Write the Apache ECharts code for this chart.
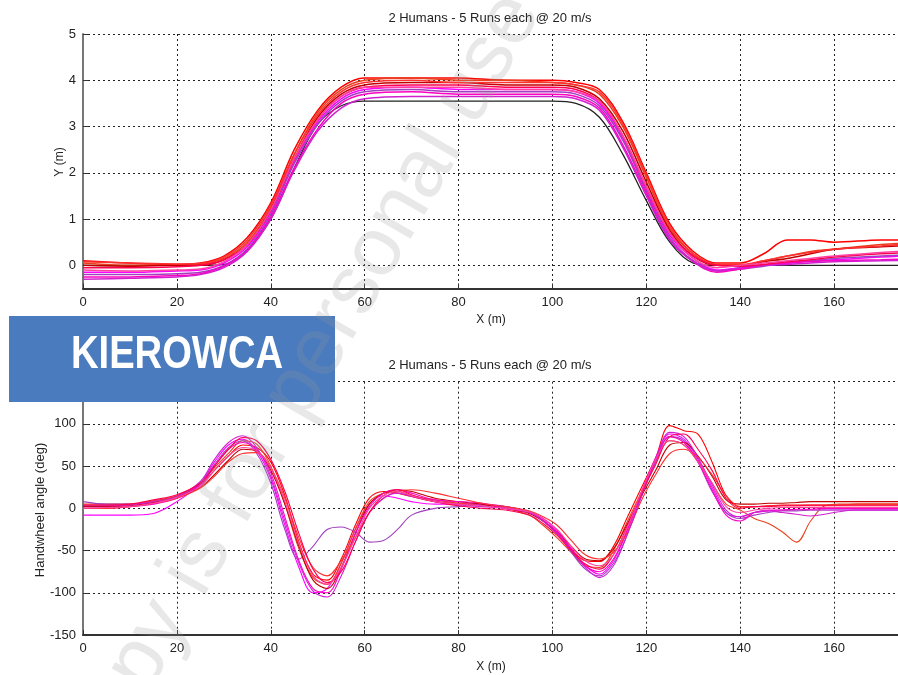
<!DOCTYPE html>
<html><head><meta charset="utf-8">
<script src="https://cdn.jsdelivr.net/npm/echarts@6/dist/echarts.min.js"></script>
<style>html,body{margin:0;padding:0;background:#fff}#c{width:898px;height:675px}</style>
</head><body><div id="c"></div>
<script>
// ---- Top plot: lateral position Y (m) vs X (m)
const posX = [0,10,20,25,30,35,40,45,50,55,60,70,80,90,100,105,110,115,120,125,130,135,140,145,150,155,160,170,180];
const posRef = [0,0,0,0,0.02,0.35,1.0,2.1,3.05,3.45,3.55,3.55,3.55,3.55,3.55,3.5,3.2,2.4,1.4,0.5,0.05,0,0,0,0,0,0,0,0];
const posRed1 = [0.1,0.05,0.02,0.05,0.2,0.6,1.35,2.5,3.35,3.85,4.05,4.05,4.05,4.0,4.0,3.95,3.8,3.1,2.0,0.9,0.3,0.05,0.05,0.25,0.55,0.55,0.5,0.55,0.55];
const posRed2 = [0.05,0.0,0.0,0.02,0.15,0.5,1.25,2.4,3.3,3.8,4.0,4.05,4.0,4.0,3.95,3.9,3.7,3.0,1.9,0.8,0.25,0.02,0.0,0.1,0.2,0.3,0.35,0.45,0.5];
const posRed3 = [0.0,-0.02,0.0,0.0,0.12,0.45,1.2,2.3,3.2,3.7,3.9,3.95,3.95,3.9,3.9,3.85,3.6,2.9,1.8,0.75,0.2,0.0,0.0,0.08,0.15,0.25,0.35,0.4,0.45];
const posRed4 = [0.08,0.05,0.03,0.04,0.18,0.55,1.3,2.4,3.25,3.75,3.95,4.0,3.95,3.95,3.95,3.9,3.75,3.05,1.95,0.85,0.25,0.02,0.02,0.1,0.2,0.28,0.35,0.42,0.5];
const posRed5 = [-0.05,-0.05,-0.03,0.0,0.12,0.45,1.2,2.3,3.15,3.65,3.85,3.9,3.9,3.85,3.85,3.8,3.55,2.8,1.7,0.7,0.2,0.0,-0.02,0.02,0.08,0.12,0.18,0.25,0.3];
const posMag1 = [-0.15,-0.15,-0.12,-0.1,0.05,0.4,1.15,2.25,3.1,3.6,3.8,3.85,3.8,3.8,3.8,3.75,3.5,2.75,1.65,0.65,0.15,-0.1,-0.05,0.0,0.05,0.1,0.12,0.18,0.22];
const posMag2 = [-0.2,-0.2,-0.18,-0.15,0.0,0.35,1.1,2.2,3.05,3.55,3.75,3.8,3.75,3.75,3.75,3.7,3.45,2.7,1.6,0.6,0.1,-0.12,-0.08,-0.02,0.05,0.1,0.15,0.2,0.25];
const posMag3 = [-0.25,-0.25,-0.22,-0.18,-0.02,0.32,1.05,2.1,2.95,3.5,3.7,3.75,3.7,3.7,3.7,3.65,3.4,2.6,1.55,0.55,0.08,-0.15,-0.08,0.0,0.05,0.08,0.1,0.12,0.15];
const posMag4 = [-0.3,-0.28,-0.25,-0.2,-0.05,0.3,1.0,2.05,2.9,3.4,3.6,3.65,3.65,3.65,3.65,3.6,3.35,2.55,1.5,0.55,0.08,-0.12,-0.05,0.0,0.02,0.05,0.08,0.1,0.12];
const posMag5 = [-0.1,-0.12,-0.1,-0.08,0.08,0.45,1.2,2.3,3.15,3.65,3.85,3.85,3.85,3.8,3.8,3.75,3.55,2.8,1.7,0.7,0.15,-0.05,0.0,0.05,0.1,0.15,0.2,0.28,0.32];

// ---- Bottom plot: handwheel angle (deg) vs X (m)
const steerX = [0,5,10,15,20,25,28,31,34,37,40,43,46,49,52,55,58,61,64,67,70,75,80,85,90,95,98,101,104,107,110,113,116,119,122,125,128,131,134,137,140,143,146,149,152,155,158,161,165,170,180];
const steerRed1 = [3,3,4,8,14, 28,45,62,75,72, 55,15,-40,-78,-85, -60,-20,12,20,18, 14,8,6,4,2, -5,-15,-30,-48,-62, -63,-45,-10,25,60, 98,92,88,55,15, 2,2,3,4,4, 4,4,4,5,5, 5];
const steerRed2 = [5,5,5,9,15, 30,48,65,80,76, 50,5,-48,-82,-90, -65,-25,8,18,20, 15,10,6,3,0, -8,-20,-35,-52,-68, -70,-50,-15,20,55, 80,75,55,30,5, -2,-12,-18,-28,-40, -15,3,5,5,5, 5];
const steerRed3 = [2,2,3,7,13, 25,40,57,70,68, 45,5,-45,-85,-95, -70,-30,5,18,22, 20,12,8,5,0, -6,-15,-28,-45,-60, -62,-48,-18,15,45, 75,78,62,38,10, 5,5,6,6,7, 8,8,8,8,8, 8];
const steerRed4 = [0,0,2,6,12, 24,38,55,65,66, 48,12,-35,-70,-80, -62,-35,-5,12,20, 22,18,12,6,2, -3,-10,-20,-38,-55, -60,-52,-28,10,40, 65,70,60,40,15, 2,2,3,3,3, 4,4,4,4,4, 4];
const steerRed5 = [4,4,5,10,16, 30,50,70,84,80, 58,20,-30,-72,-88, -75,-40,-5,15,22, 16,8,3,0,-2, -8,-18,-32,-50,-66, -72,-55,-20,18,52, 85,88,70,45,12, 0,2,2,3,3, 3,3,3,3,3, 3];
const steerMag1 = [-8,-8,-8,-6,8, 30,55,75,82,68, 35,-20,-70,-100,-95, -65,-25,5,15,12, 8,5,5,5,2, -4,-12,-26,-48,-68, -78,-62,-25,20,60, 88,82,58,25,-5, -10,-5,-3,-2,-2, -2,-2,-2,-2,-2, -2];
const steerMag2 = [8,5,5,7,14, 30,52,72,80,65, 30,-25,-60,-45,-25, -22,-28,-40,-38,-25, -8,0,2,4,2, -4,-14,-30,-52,-72, -80,-65,-30,15,55, 85,80,55,20,-5, -12,-8,-5,-3,-3, -2,-2,-2,-2,-2, -2];
const steerMag3 = [0,0,2,5,12, 28,50,70,78,70, 42,-10,-62,-95,-100, -72,-30,2,18,22, 18,10,8,6,0, -5,-14,-28,-48,-68, -75,-60,-25,18,58, 85,78,55,22,-8, -15,-5,-2,-2,-1, -1,0,0,0,0, 0];
const steerMag4 = [3,3,4,8,14, 32,58,78,86,72, 38,-15,-65,-98,-105, -80,-40,-5,12,18, 14,8,4,2,0, -5,-15,-30,-50,-70, -82,-68,-30,15,58, 90,85,60,28,-2, -10,-5,-3,-5,-7, -9,-7,-4,-2,-2, -2];
const steerMag5 = [0,1,2,6,13, 26,45,62,72,68, 48,8,-42,-80,-90, -70,-35,0,15,20, 15,8,5,3,0, -4,-12,-25,-45,-62, -68,-55,-22,20,58, 80,75,55,30,2, -5,-2,0,1,1, 1,1,1,1,1, 1];

const posYTicks = [0,1,2,3,4,5];
const titleText = '2 Humans - 5 Runs each @ 20 m/s';

const redColors = ['#ff0000','#e8401c','#c00000','#ff3030','#ff0050'];
const magColors = ['#ff00ff','#a040c0','#ff00c0','#d020d0','#ff40a0'];

function zip(xs, ys){ return xs.map((x,i)=>[x, ys[i]]); }

const posRed = [posRed1,posRed2,posRed3,posRed4,posRed5];
const posMag = [posMag1,posMag2,posMag3,posMag4,posMag5];
const steerRed = [steerRed1,steerRed2,steerRed3,steerRed4,steerRed5];
const steerMag = [steerMag1,steerMag2,steerMag3,steerMag4,steerMag5];

const series = [];
function addLine(xs, ys, color, idx, width){
  series.push({type:'line', xAxisIndex:idx, yAxisIndex:idx, data:zip(xs,ys),
    showSymbol:false, smooth:0.35, lineStyle:{color:color, width:width}, silent:true});
}
addLine(posX, posRef, '#222222', 0, 1.3);
for (let i=0;i<5;i++){ addLine(posX, posRed[i], redColors[i], 0, 1.5); addLine(posX, posMag[i], magColors[i], 0, 1.5); }
for (let i=0;i<5;i++){ addLine(steerX, steerRed[i], redColors[i], 1, 1.1); addLine(steerX, steerMag[i], magColors[i], 1, 1.1); }

const font = 'Liberation Sans';
const gridLine = {show:true, lineStyle:{color:'#222', type:[2,3], width:1}};
function xAx(idx){
  return {type:'value', gridIndex:idx, min:0, max:180, interval:20,
    axisLine:{show:true, onZero:false, lineStyle:{color:'#333', width:2}},
    axisTick:{show:true, inside:true, length:5, lineStyle:{color:'#333'}},
    axisLabel:{color:'#222', fontSize:13, fontFamily:font, margin:7},
    splitLine:gridLine};
}
const option = {
  animation:false,
  backgroundColor:'#fff',
  grid:[
    {left:83, right:-30, top:34, height:254.5, containLabel:false, outerBoundsMode:'none'},
    {left:83, right:-30, top:381.7, height:253.3, containLabel:false, outerBoundsMode:'none'}
  ],
  xAxis:[xAx(0), xAx(1)],
  yAxis:[
    {type:'value', gridIndex:0, min:-0.5, max:5,
      axisLine:{show:true, onZero:false, lineStyle:{color:'#777', width:2}},
      axisTick:{show:true, inside:true, length:5, customValues:posYTicks, lineStyle:{color:'#333'}},
      axisLabel:{color:'#222', fontSize:13, fontFamily:font, margin:7, customValues:posYTicks},
      splitLine:gridLine},
    {type:'value', gridIndex:1, min:-150, max:150, interval:50,
      axisLine:{show:true, onZero:false, lineStyle:{color:'#777', width:2}},
      axisTick:{show:true, inside:true, length:5, lineStyle:{color:'#333'}},
      axisLabel:{color:'#222', fontSize:13, fontFamily:font, margin:7},
      splitLine:gridLine}
  ],
  series: series,
  graphic:[
    {type:'text', x:490, y:18, z:50, style:{text:titleText, fill:'#222', font:'13px '+font, align:'center', verticalAlign:'middle'}},
    {type:'text', x:490, y:365, z:50, style:{text:titleText, fill:'#222', font:'13px '+font, align:'center', verticalAlign:'middle'}},
    {type:'text', x:491, y:320, z:50, style:{text:'X (m)', fill:'#222', font:'12px '+font, align:'center', verticalAlign:'middle'}},
    {type:'text', x:491, y:667, z:50, style:{text:'X (m)', fill:'#222', font:'12px '+font, align:'center', verticalAlign:'middle'}},
    {type:'text', x:60, y:162, rotation:Math.PI/2, z:50, style:{text:'Y (m)', fill:'#222', font:'12px '+font, align:'center', verticalAlign:'middle'}},
    {type:'text', x:40, y:510, rotation:Math.PI/2, z:50, style:{text:'Handwheel angle (deg)', fill:'#222', font:'13px '+font, align:'center', verticalAlign:'middle'}},
    {type:'rect', z:60, shape:{x:9, y:316, width:326, height:86}, style:{fill:'#4a7bbf'}},
    {type:'text', x:177, y:355, scaleX:0.83, z:61, style:{text:'KIEROWCA', fill:'#ffffff', font:'bold 46px '+font, align:'center', verticalAlign:'middle'}},
    {type:'text', x:298, y:388, rotation:60*Math.PI/180, z:80, style:{text:'Copy is for personal use', fill:'rgba(150,150,150,0.22)', font:'83px '+font, align:'center', verticalAlign:'middle'}}
  ]
};
const chart = echarts.init(document.getElementById('c'), null, {renderer:'canvas'});
chart.setOption(option);
</script></body></html>
